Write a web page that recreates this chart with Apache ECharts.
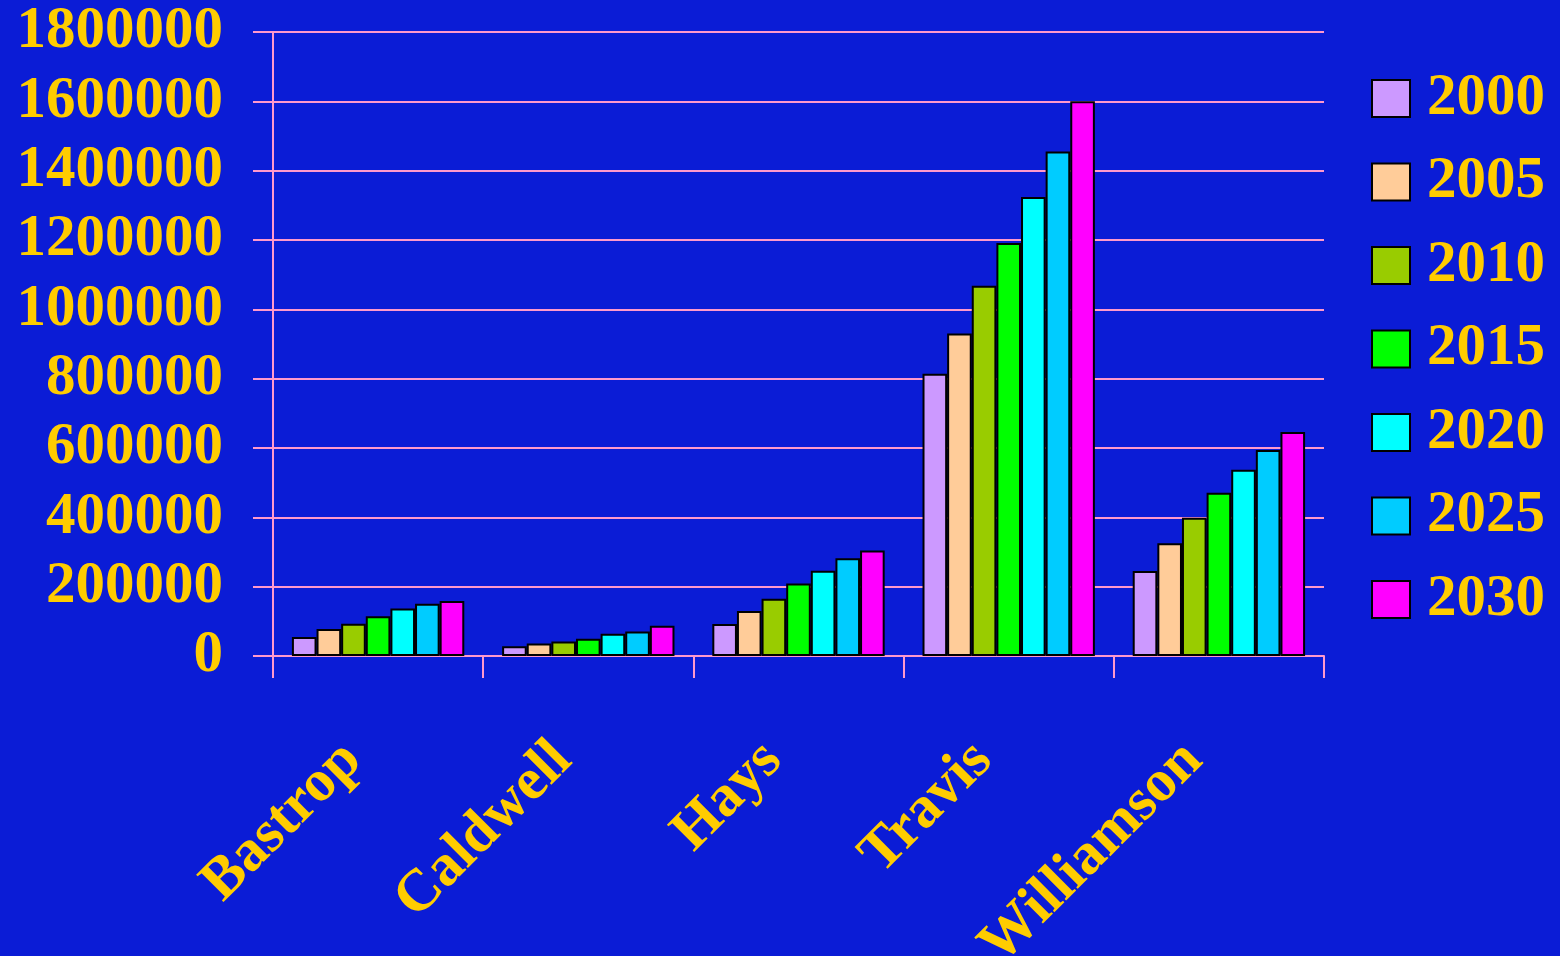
<!DOCTYPE html>
<html>
<head>
<meta charset="utf-8">
<script src="https://cdn.jsdelivr.net/npm/echarts@6/dist/echarts.min.js"></script>
<style>
html,body{margin:0;padding:0;background:#0B1CD6;}
#chart{width:1560px;height:956px;}
</style>
</head>
<body>
<div id="chart"></div>
<script>
const counties = ['Bastrop', 'Caldwell', 'Hays', 'Travis', 'Williamson'];
const years = ['2000', '2005', '2010', '2015', '2020', '2025', '2030'];
const y2000 = [55000, 28000, 92000, 814000, 245000];
const y2005 = [78000, 36000, 130000, 930000, 325000];
const y2010 = [93000, 42000, 165000, 1068000, 399000];
const y2015 = [115000, 50000, 209000, 1191000, 471000];
const y2020 = [137000, 64000, 246000, 1324000, 537000];
const y2025 = [151000, 71000, 282000, 1455000, 594000];
const y2030 = [159000, 87000, 304000, 1600000, 646000];
const yearValues = [y2000, y2005, y2010, y2015, y2020, y2025, y2030];
const colors = ['#CC99FF', '#FFCC99', '#99CC00', '#00FF00', '#00FFFF', '#00CCFF', '#FF00FF'];

const font = "'Liberation Serif', 'Times New Roman', serif";
const gold = '#FFCC00';
const pink = '#FF99CC';

const chart = echarts.init(document.getElementById('chart'));
chart.setOption({
  backgroundColor: '#0B1CD6',
  animation: false,
  grid: { left: 273, right: 236, top: 32, bottom: 300, containLabel: false, outerBoundsMode: 'none' },
  legend: {
    orient: 'vertical',
    left: 1371,
    top: 69,
    padding: 0,
    icon: 'rect',
    itemWidth: 38,
    itemHeight: 37,
    itemGap: 24.5,
    textStyle: { color: gold, fontFamily: font, fontWeight: 'bold', fontSize: 59, padding: [0, 0, 0, 12] },
    itemStyle: { borderColor: '#000', borderWidth: 2 },
    data: years
  },
  xAxis: {
    type: 'category',
    data: counties,
    axisLine: { lineStyle: { color: pink, width: 2 } },
    axisTick: { show: true, length: 22, lineStyle: { color: pink, width: 2 } },
    axisLabel: {
      rotate: 45, interval: 0, margin: 70,
      color: gold, fontFamily: font, fontWeight: 'bold', fontSize: 59,
      padding: [0, 36, 0, 0]
    }
  },
  yAxis: {
    type: 'value',
    min: 0, max: 1800000, interval: 200000,
    axisLine: { show: true, lineStyle: { color: pink, width: 2 } },
    axisTick: { show: true, length: 20, lineStyle: { color: pink, width: 2 } },
    splitLine: { lineStyle: { color: pink, width: 2 } },
    axisLabel: {
      margin: 50, color: gold, fontFamily: font, fontWeight: 'bold', fontSize: 59,
      padding: [9, 0, 0, 0],
      formatter: v => String(v)
    }
  },
  series: years.map((yr, i) => ({
    name: yr,
    type: 'bar',
    data: yearValues[i],
    barGap: '0%',
    barCategoryGap: '18%',
    itemStyle: { color: colors[i], borderColor: '#000', borderWidth: 2 }
  }))
});
</script>
</body>
</html>
